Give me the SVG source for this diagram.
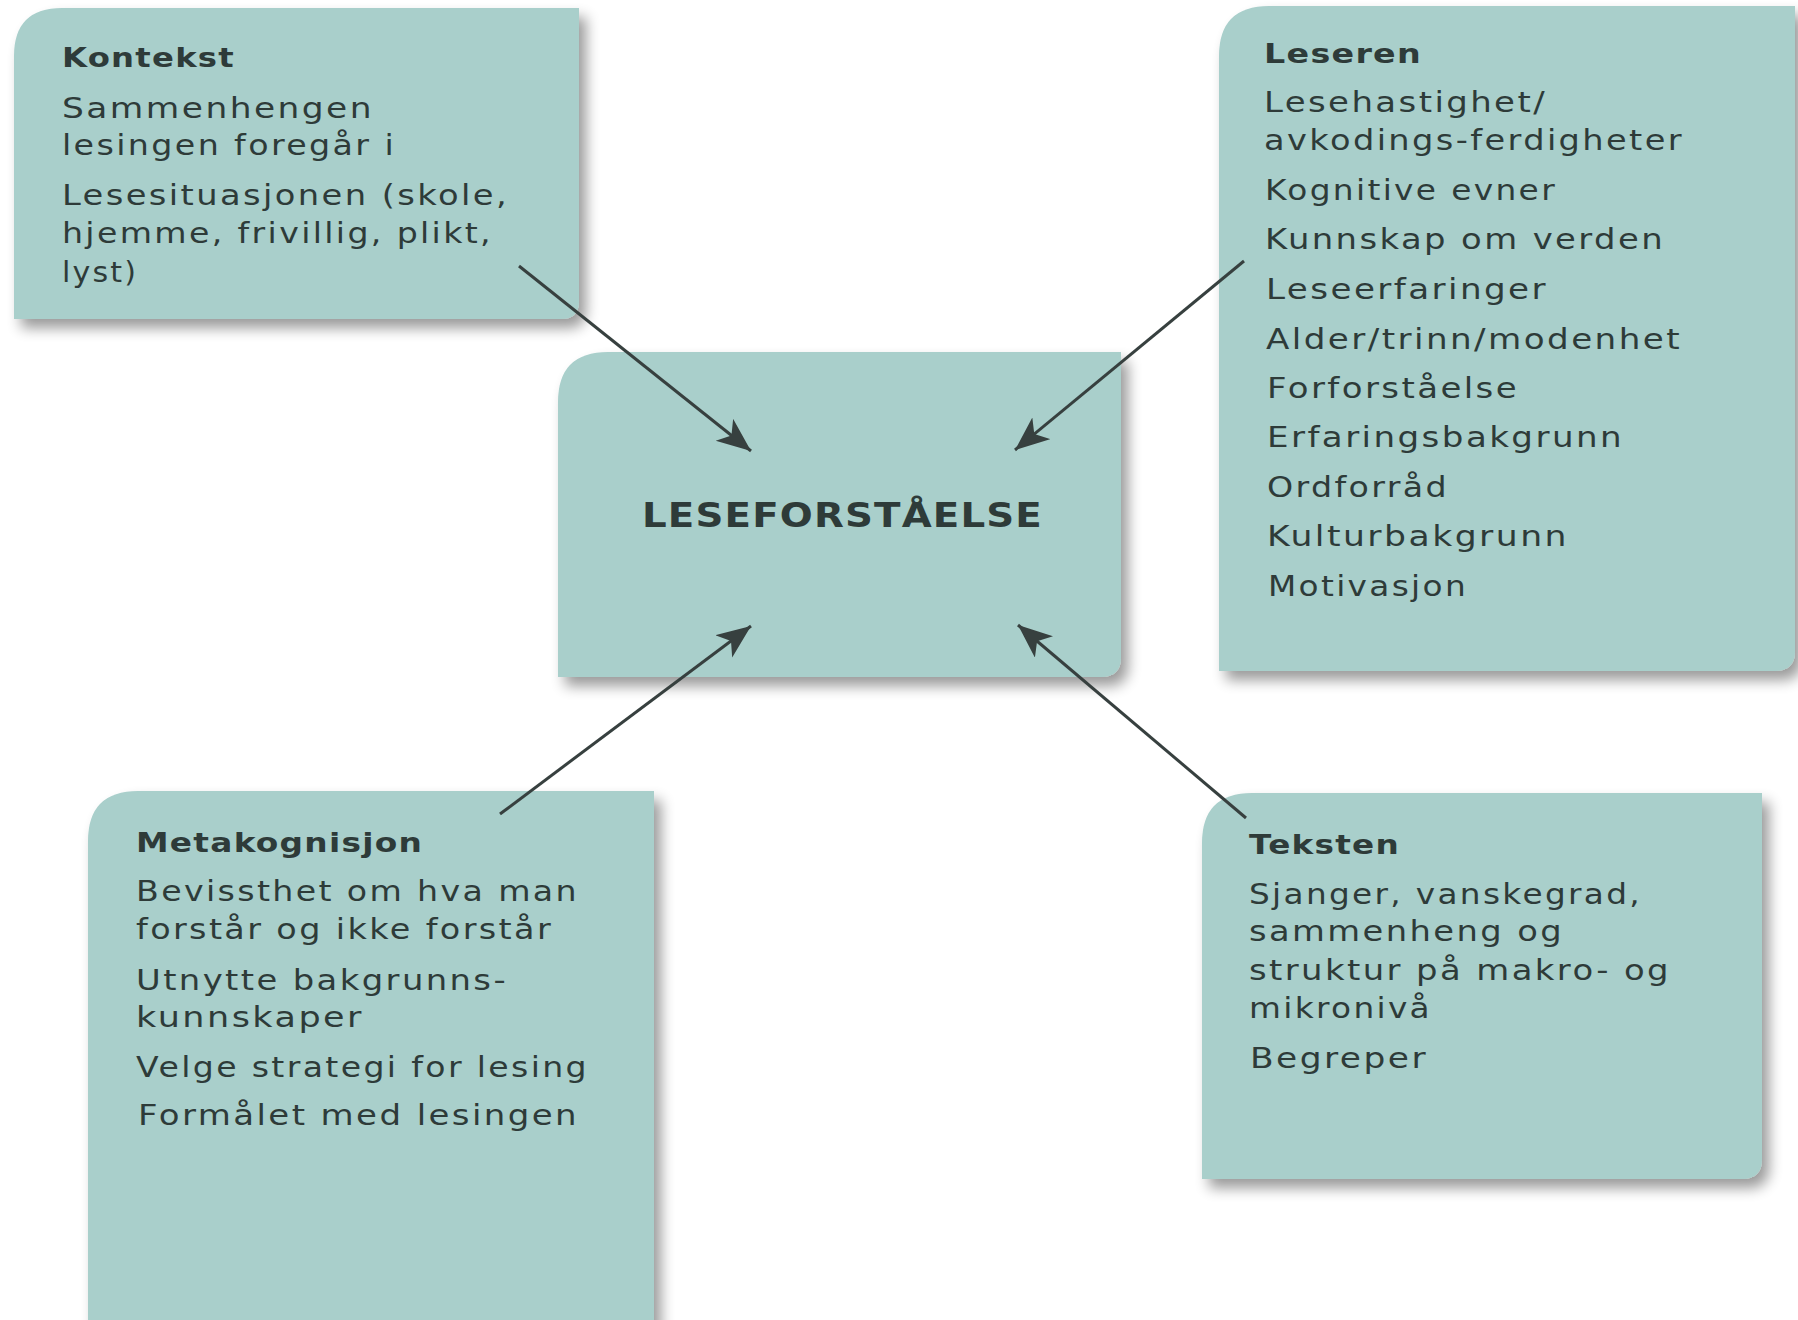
<svg xmlns="http://www.w3.org/2000/svg" width="1798" height="1320" viewBox="0 0 1798 1320">
<style>
.box{fill:#a9cfcb;filter:url(#sh)}
text{lengthAdjust:spacingAndGlyphs}
.t{font-family:"DejaVu Sans","Liberation Sans",sans-serif;font-size:28px;letter-spacing:2px;fill:#2e3b39}
.h{font-family:"DejaVu Sans","Liberation Sans",sans-serif;font-size:26px;letter-spacing:1px;font-weight:bold;fill:#2e3b39}
.c{font-family:"DejaVu Sans","Liberation Sans",sans-serif;font-size:34px;letter-spacing:1px;font-weight:bold;fill:#2e3b39}
.arr{stroke:#37403f;stroke-width:3;fill:none;marker-end:url(#ah)}
</style>
<defs>
<filter id="sh" x="-5%" y="-5%" width="115%" height="115%">
<feGaussianBlur in="SourceAlpha" stdDeviation="7"/>
<feOffset dx="7" dy="9" result="b"/>
<feComponentTransfer><feFuncA type="linear" slope="0.4"/></feComponentTransfer>
<feMerge><feMergeNode/><feMergeNode in="SourceGraphic"/></feMerge>
</filter>
<marker id="ah" markerUnits="userSpaceOnUse" markerWidth="40" markerHeight="32" refX="34" refY="14" orient="auto">
<path d="M0,0 L34,14 L0,28 L9,14 Z" fill="#37403f"/>
</marker>
</defs>
<rect width="1798" height="1320" fill="#ffffff"/>

<g id="kontekst">
<path class="box" d="M62,8 H579 V301 Q579,319 561,319 H14 V56 Q14,8 62,8 Z"/>
<text class="h" x="62" y="67" textLength="173" lengthAdjust="spacingAndGlyphs">Kontekst</text>
<text class="t" x="62" y="118" textLength="312" lengthAdjust="spacingAndGlyphs">Sammenhengen</text>
<text class="t" x="62" y="155" textLength="334" lengthAdjust="spacingAndGlyphs">lesingen foregår i</text>
<text class="t" x="62" y="205" textLength="447" lengthAdjust="spacingAndGlyphs">Lesesituasjonen (skole,</text>
<text class="t" x="62" y="243" textLength="431" lengthAdjust="spacingAndGlyphs">hjemme, frivillig, plikt,</text>
<text class="t" x="62" y="282" textLength="76" lengthAdjust="spacingAndGlyphs">lyst)</text>
</g>

<g id="leseren">
<path class="box" d="M1269,6 H1795 V651 Q1795,671 1775,671 H1219 V56 Q1219,6 1269,6 Z"/>
<text class="h" x="1264" y="63" textLength="158" lengthAdjust="spacingAndGlyphs">Leseren</text>
<text class="t" x="1264" y="112" textLength="283" lengthAdjust="spacingAndGlyphs">Lesehastighet/</text>
<text class="t" x="1264" y="150" textLength="420" lengthAdjust="spacingAndGlyphs">avkodings-ferdigheter</text>
<text class="t" x="1265" y="200" textLength="292" lengthAdjust="spacingAndGlyphs">Kognitive evner</text>
<text class="t" x="1265" y="249" textLength="400" lengthAdjust="spacingAndGlyphs">Kunnskap om verden</text>
<text class="t" x="1266" y="299" textLength="282" lengthAdjust="spacingAndGlyphs">Leseerfaringer</text>
<text class="t" x="1266" y="349" textLength="416" lengthAdjust="spacingAndGlyphs">Alder/trinn/modenhet</text>
<text class="t" x="1267" y="398" textLength="252" lengthAdjust="spacingAndGlyphs">Forforståelse</text>
<text class="t" x="1267" y="447" textLength="357" lengthAdjust="spacingAndGlyphs">Erfaringsbakgrunn</text>
<text class="t" x="1267" y="497" textLength="182" lengthAdjust="spacingAndGlyphs">Ordforråd</text>
<text class="t" x="1267" y="546" textLength="302" lengthAdjust="spacingAndGlyphs">Kulturbakgrunn</text>
<text class="t" x="1268" y="596" textLength="200" lengthAdjust="spacingAndGlyphs">Motivasjon</text>
</g>

<g id="leseforstaelse">
<path class="box" d="M608,352 H1121 V657 Q1121,677 1101,677 H558 V402 Q558,352 608,352 Z"/>
<text class="c" x="642" y="527" textLength="401" lengthAdjust="spacingAndGlyphs">LESEFORSTÅELSE</text>
</g>

<g id="metakognisjon">
<path class="box" d="M138,791 H654 V1340 H88 V841 Q88,791 138,791 Z"/>
<text class="h" x="136" y="852" textLength="287" lengthAdjust="spacingAndGlyphs">Metakognisjon</text>
<text class="t" x="136" y="901" textLength="443" lengthAdjust="spacingAndGlyphs">Bevissthet om hva man</text>
<text class="t" x="136" y="939" textLength="417" lengthAdjust="spacingAndGlyphs">forstår og ikke forstår</text>
<text class="t" x="136" y="990" textLength="372" lengthAdjust="spacingAndGlyphs">Utnytte bakgrunns-</text>
<text class="t" x="136" y="1027" textLength="228" lengthAdjust="spacingAndGlyphs">kunnskaper</text>
<text class="t" x="136" y="1077" textLength="453" lengthAdjust="spacingAndGlyphs">Velge strategi for lesing</text>
<text class="t" x="138" y="1125" textLength="441" lengthAdjust="spacingAndGlyphs">Formålet med lesingen</text>
</g>

<g id="teksten">
<path class="box" d="M1252,793 H1762 V1159 Q1762,1179 1742,1179 H1202 V843 Q1202,793 1252,793 Z"/>
<text class="h" x="1249" y="854" textLength="151" lengthAdjust="spacingAndGlyphs">Teksten</text>
<text class="t" x="1249" y="904" textLength="393" lengthAdjust="spacingAndGlyphs">Sjanger, vanskegrad,</text>
<text class="t" x="1249" y="941" textLength="315" lengthAdjust="spacingAndGlyphs">sammenheng og</text>
<text class="t" x="1249" y="980" textLength="422" lengthAdjust="spacingAndGlyphs">struktur på makro- og</text>
<text class="t" x="1249" y="1018" textLength="183" lengthAdjust="spacingAndGlyphs">mikronivå</text>
<text class="t" x="1250" y="1068" textLength="178" lengthAdjust="spacingAndGlyphs">Begreper</text>
</g>

<g id="connectors">
<line class="arr" x1="519" y1="266" x2="751" y2="451"/>
<line class="arr" x1="1244" y1="261" x2="1015" y2="450"/>
<line class="arr" x1="500" y1="814" x2="751" y2="626"/>
<line class="arr" x1="1246" y1="818" x2="1018" y2="625"/>
</g>
</svg>
